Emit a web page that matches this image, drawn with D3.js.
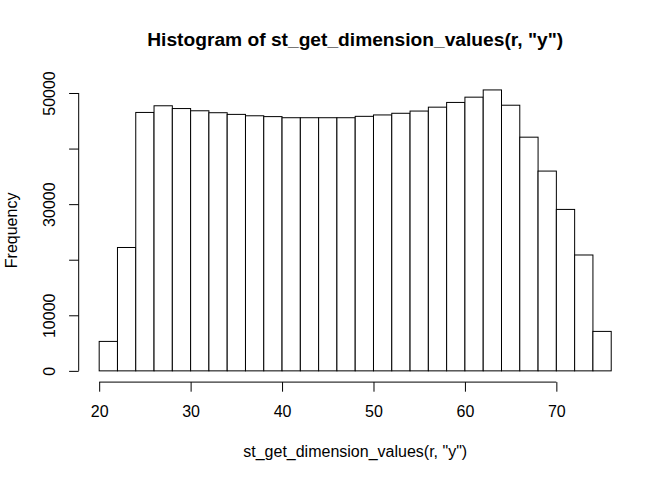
<!DOCTYPE html>
<html>
<head>
<meta charset="utf-8">
<script src="https://cdn.jsdelivr.net/npm/d3@7"></script>
<style>
  body { margin: 0; background: #fff; }
  svg text { font-family: "Liberation Sans", Arial, sans-serif; fill: #000; }
</style>
</head>
<body>
<div id="chart"></div>
<script>
// histogram breaks (bin edges) and counts per bin
var breaks = [20,22,24,26,28,30,32,34,36,38,40,42,44,46,48,50,52,54,56,58,60,62,64,66,68,70,72,74,76];
var counts = [5300, 22200, 46500, 47700, 47200, 46800, 46450, 46150, 45900, 45750, 45550, 45550, 45550, 45550,
              45800, 46050, 46350, 46750, 47450, 48300, 49250, 50550, 47800, 42050, 35950, 29050, 20850, 7100];
var xTicks = [20, 30, 40, 50, 60, 70];
var yTicks = [0, 10000, 20000, 30000, 40000, 50000];
var yTickLabels = ["0", "10000", "", "30000", "", "50000"];

var W = 672, H = 480;
var margin = {top: 78.7, right: 40.3, bottom: 97.9, left: 78.7};

var bins = counts.map(function(c, i) { return {x0: breaks[i], x1: breaks[i + 1], n: c}; });

// R style axis limits: data range extended by 4%
var xlo = d3.min(breaks), xhi = d3.max(breaks), xpad = (xhi - xlo) * 0.04;
var ymax = d3.max(counts), ypad = ymax * 0.04;

var x = d3.scaleLinear()
  .domain([xlo - xpad, xhi + xpad])
  .range([margin.left, W - margin.right]);

var y = d3.scaleLinear()
  .domain([-ypad, ymax + ypad])
  .range([H - margin.bottom, margin.top]);

var svg = d3.select("#chart")
  .append("svg")
    .attr("width", W)
    .attr("height", H);

// bars
svg.selectAll(".bar")
  .data(bins)
  .enter()
  .append("rect")
    .attr("class", "bar")
    .attr("x", function(d) { return x(d.x0); })
    .attr("width", function(d) { return x(d.x1) - x(d.x0); })
    .attr("y", function(d) { return y(d.n); })
    .attr("height", function(d) { return y(0) - y(d.n); })
    .attr("fill", "#fff")
    .attr("stroke", "#000")
    .attr("stroke-width", 1);

// x axis
var xAxis = svg.append("g")
  .attr("transform", "translate(0," + (H - margin.bottom) + ")")
  .call(d3.axisBottom(x).tickValues(xTicks).tickSize(9.6).tickSizeOuter(0));
xAxis.select(".domain").remove();
xAxis.append("line")
  .attr("x1", x(xTicks[0])).attr("x2", x(xTicks[xTicks.length - 1]))
  .attr("stroke", "#000");
xAxis.selectAll(".tick line").attr("stroke", "#000");
xAxis.selectAll(".tick text")
  .attr("y", 34.6)
  .attr("dy", null)
  .attr("fill", "#000")
  .style("font-size", "16px");

// y axis
var yAxis = svg.append("g")
  .attr("transform", "translate(" + margin.left + ",0)")
  .call(d3.axisLeft(y).tickValues(yTicks).tickSize(9.6).tickSizeOuter(0)
    .tickFormat(function(d, i) { return yTickLabels[i]; }));
yAxis.select(".domain").remove();
yAxis.append("line")
  .attr("y1", y(yTicks[0])).attr("y2", y(yTicks[yTicks.length - 1]))
  .attr("stroke", "#000");
yAxis.selectAll(".tick line").attr("stroke", "#000");
yAxis.selectAll(".tick text")
  .attr("x", null)
  .attr("dy", null)
  .attr("transform", "translate(-23.7,0) rotate(-90)")
  .attr("text-anchor", "middle")
  .attr("fill", "#000")
  .style("font-size", "16px");

// titles
svg.append("text")
  .attr("x", (margin.left + W - margin.right) / 2)
  .attr("y", 45.7)
  .attr("text-anchor", "middle")
  .style("font-size", "19.2px")
  .style("font-weight", "bold")
  .text('Histogram of st_get_dimension_values(r, "y")');

svg.append("text")
  .attr("x", (margin.left + W - margin.right) / 2)
  .attr("y", 456.7)
  .attr("text-anchor", "middle")
  .style("font-size", "16px")
  .text('st_get_dimension_values(r, "y")');

svg.append("text")
  .attr("transform", "translate(17," + ((margin.top + H - margin.bottom) / 2) + ") rotate(-90)")
  .attr("text-anchor", "middle")
  .style("font-size", "16px")
  .text("Frequency");
</script>
</body>
</html>
